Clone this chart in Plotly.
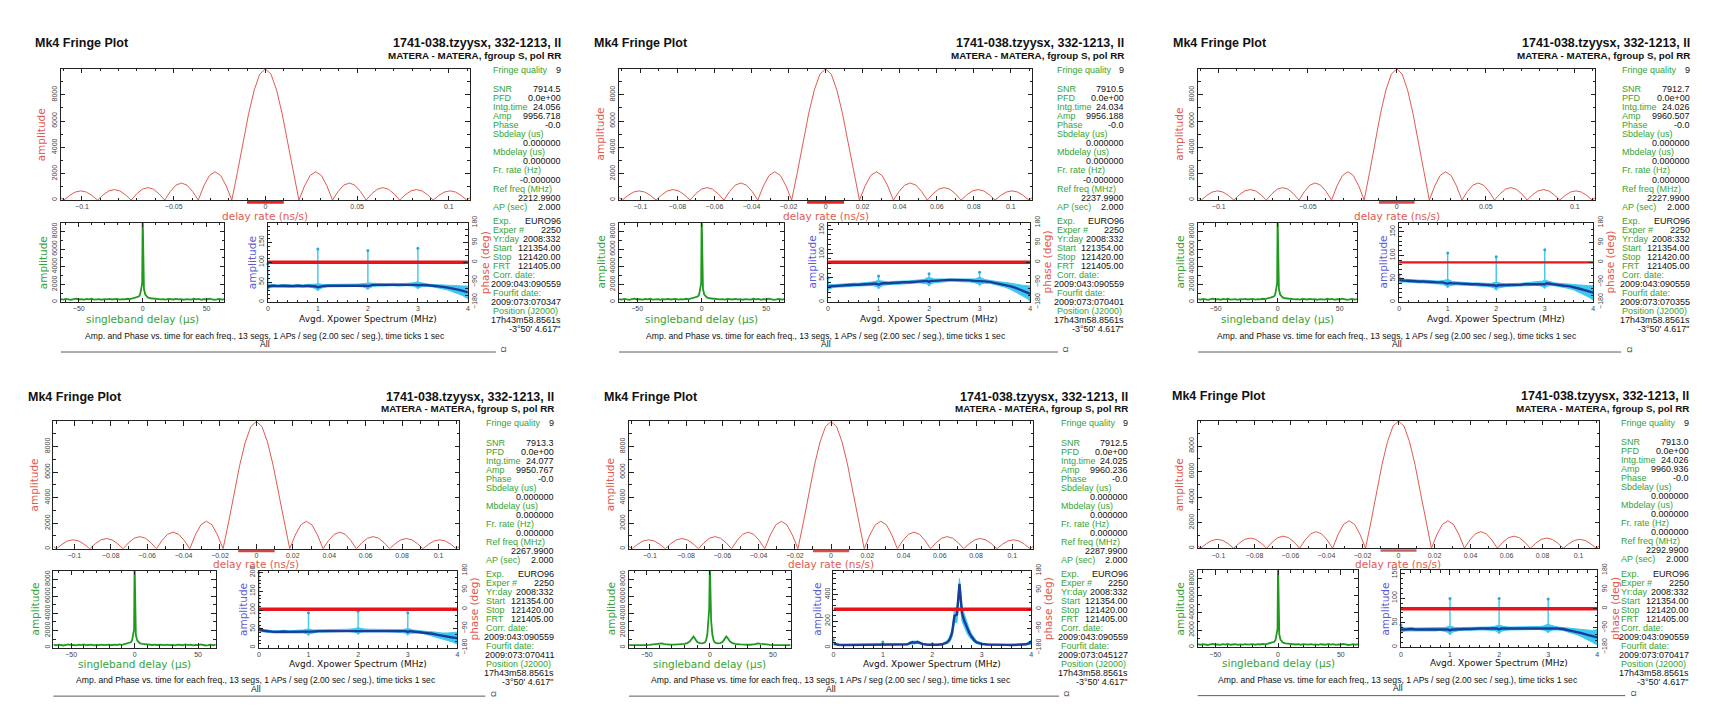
import plotly.graph_objects as go

# ----------------------------------------------------------------- data
# top plots: delay-rate function (ns/s vs amplitude)
rate_x = [-0.1115, -0.1098, -0.10675, -0.1037, -0.10065, -0.0976, -0.09455, -0.0915,
          -0.08845, -0.0854, -0.08235, -0.0793, -0.07625, -0.0732, -0.07015, -0.0671,
          -0.06405, -0.061, -0.05795, -0.0549, -0.05185, -0.0488, -0.04575, -0.0427,
          -0.03965, -0.0366, -0.03355, -0.0305, -0.02745, -0.0244, -0.02135, -0.0183,
          -0.01525, -0.0122, -0.00915, -0.0061, -0.00305, 0.0, 0.00305, 0.0061, 0.00915,
          0.0122, 0.01525, 0.0183, 0.02135, 0.0244, 0.02745, 0.0305, 0.03355, 0.0366,
          0.03965, 0.0427, 0.04575, 0.0488, 0.05185, 0.0549, 0.05795, 0.061, 0.06405,
          0.0671, 0.07015, 0.0732, 0.07625, 0.0793, 0.08235, 0.0854, 0.08845, 0.0915,
          0.09455, 0.0976, 0.10065, 0.1037, 0.10675, 0.1098, 0.1115]
rate_amp = [180, 0, 350, 610, 700, 610, 350, 0,
            400, 695, 800, 695, 400, 0,
            475, 825, 950, 825, 475, 0,
            650, 1130, 1300, 1130, 650, 0,
            1075, 1870, 2150, 1870, 1075, 0,
            2100, 4350, 6550, 8350, 9560, 9957, 9560, 8350, 6550, 4350, 2100,
            0, 1075, 1870, 2150, 1870, 1075,
            0, 650, 1130, 1300, 1130, 650,
            0, 475, 825, 950, 825, 475,
            0, 400, 695, 800, 695, 400,
            0, 350, 610, 700, 610, 350, 0, 180]
rate_window = [-0.01, 0.01]

# singleband delay (us)
sbd_x = [-64, -62, -60, -58, -56, -54, -52, -50, -48, -46, -44, -42, -40, -38, -36, -34,
         -32, -30, -28, -26, -24, -22, -20, -18, -16, -14, -12, -10, -8, -6, -4,
         -3, -2, -1, -0.4, 0, 0.4, 1, 2, 3,
         4, 6, 8, 10, 12, 14, 16, 18, 20, 22, 24, 26, 28, 30, 32, 34, 36, 38, 40, 42,
         44, 46, 48, 50, 52, 54, 56, 58, 60, 62, 64]
sbd_amp = [340, 280, 360, 300, 250, 330, 380, 290, 320, 260, 350, 300, 370, 280, 310, 340,
           260, 330, 300, 360, 290, 320, 350, 280, 340, 310, 370, 330, 400, 430, 520,
           620, 850, 1500, 2100, 9957, 2100, 1500, 850, 620,
           520, 430, 400, 330, 370, 310, 340, 280, 350, 320, 290, 360, 300, 330, 260, 340,
           310, 280, 370, 300, 350, 260, 320, 290, 380, 330, 250, 300, 360, 280, 340]
sbd_x_p5 = [-64, -60, -56, -52, -48, -44, -40, -38, -36, -32, -28, -24, -20, -18,
            -16, -15, -14, -13, -12, -11, -10, -8, -6, -4, -3, -2, -1, -0.5, 0,
            0.5, 1, 2, 3, 4, 6, 8, 10, 11, 12, 13, 14, 15, 16, 18, 20, 24, 28, 32,
            36, 38, 40, 44, 48, 52, 56, 60, 64]
sbd_amp_p5 = [300, 280, 320, 290, 320, 360, 450, 500, 420, 340, 350, 380, 430, 520,
              700, 900, 1150, 1300, 1100, 850, 650, 520, 500, 600, 850, 1500, 3200, 4600, 9957,
              4600, 3200, 1500, 850, 600, 500, 520, 650, 850, 1100, 1300, 1150, 900, 700, 520,
              430, 380, 350, 340, 420, 500, 450, 360, 320, 290, 320, 280, 300]

# averaged cross-power spectrum (MHz vs amplitude)
xp_x = [0.0, 0.02, 0.1, 0.2, 0.3, 0.4, 0.5, 0.6, 0.7, 0.8, 0.9, 0.96, 1.0, 1.04,
        1.1, 1.2, 1.3, 1.4, 1.5, 1.6, 1.7, 1.8, 1.9, 1.96, 2.0, 2.04,
        2.1, 2.2, 2.3, 2.4, 2.5, 2.6, 2.7, 2.8, 2.9, 2.96, 3.0, 3.04,
        3.1, 3.2, 3.3, 3.4, 3.5, 3.6, 3.7, 3.8, 3.9, 3.96, 4.0]
xp_spread = [8, 5, 3, 3, 3, 3, 3, 3, 3, 3, 4, 6, 9, 6, 4, 3, 3, 3, 3, 3, 3, 3, 4, 6, 9, 6,
             4, 3, 3, 3, 3, 3, 3, 3, 4, 6, 9, 6, 4, 3, 3, 4, 5, 6, 8, 10, 12, 14, 16]
xp_amp_p1 = [36, 40, 41, 40, 41, 40, 40, 41, 40, 41, 40, 39, 37, 39,
             40, 41, 41, 42, 41, 42, 42, 42, 42, 41, 40, 42,
             43, 43, 43, 43, 44, 43, 43, 44, 44, 43, 42, 43,
             43, 42, 41, 40, 38, 36, 34, 31, 28, 26, 24]
xp_amp_p2 = [30, 32, 33, 34, 35, 35, 36, 36, 37, 37, 38, 38, 36, 38,
             39, 39, 40, 40, 41, 41, 42, 43, 43, 44, 42, 44,
             44, 45, 45, 46, 46, 46, 45, 45, 44, 44, 43, 44,
             43, 42, 40, 38, 36, 33, 30, 26, 22, 20, 17]
xp_amp_p3 = [48, 47, 46, 45, 45, 44, 44, 43, 43, 42, 42, 41, 39, 41,
             40, 40, 39, 39, 38, 38, 37, 37, 36, 36, 34, 36,
             36, 36, 37, 37, 37, 38, 38, 39, 39, 39, 38, 40,
             39, 38, 37, 35, 34, 32, 29, 26, 23, 21, 20]
xp_amp_p4 = [52, 48, 45, 43, 42, 42, 43, 42, 42, 43, 43, 43, 41, 43,
             43, 44, 44, 45, 45, 45, 46, 46, 46, 46, 44, 46,
             46, 46, 46, 45, 45, 45, 44, 44, 44, 44, 42, 44,
             43, 42, 41, 39, 37, 34, 31, 29, 27, 26, 25]
xp_amp_p6 = [35, 36, 36, 37, 36, 36, 37, 36, 36, 37, 36, 36, 34, 36,
             36, 37, 37, 37, 38, 38, 38, 38, 38, 38, 36, 38,
             38, 38, 38, 38, 39, 39, 39, 39, 39, 39, 38, 39,
             39, 38, 37, 35, 33, 31, 28, 25, 22, 21, 20]
xp_x_p5 = [0.0, 0.1, 0.2, 0.3, 0.4, 0.5, 0.6, 0.7, 0.8, 0.9, 1.0, 1.1, 1.2, 1.3, 1.4, 1.5,
           1.55, 1.6, 1.65, 1.7, 1.75, 1.8, 1.9, 2.0, 2.1, 2.2, 2.3,
           2.35, 2.4, 2.45, 2.5, 2.55, 2.6, 2.65, 2.7, 2.75, 2.8, 2.85,
           2.9, 3.0, 3.1, 3.2, 3.3, 3.4, 3.5, 3.6, 3.7, 3.8, 3.9, 4.0]
xp_amp_p5 = [30, 22, 20, 20, 21, 20, 20, 21, 20, 20, 22, 20, 20, 21, 22, 25,
             35, 40, 38, 42, 36, 28, 22, 21, 22, 25, 40,
             60, 110, 240, 250, 480, 260, 200, 150, 110, 80, 55,
             40, 28, 24, 22, 21, 21, 21, 20, 21, 22, 25, 40]
xp_spread_p5 = [10, 3, 3, 3, 3, 3, 3, 3, 3, 3, 5, 3, 3, 3, 3, 4,
                8, 10, 10, 10, 8, 5, 3, 3, 3, 5, 10,
                20, 30, 50, 60, 40, 60, 50, 40, 30, 20, 15,
                10, 6, 4, 3, 3, 3, 3, 3, 3, 3, 5, 15]
spike_x = [0, 1, 2, 3]
spike_top = [[96, 133, 129, 135], [50, 54, 59, 62], [58, 105, 97, 112],
             [200, 93, 97, 93], [60, 42, 30, 28], [45, 99, 99, 98]]
phase_x = [0, 4]
phase_deg = [0, 0]

# per-panel numbers
snr = [7914.5, 7910.5, 7912.7, 7913.3, 7912.5, 7913.0]
intg_time = [24.056, 24.034, 24.026, 24.077, 24.025, 24.026]
amp_val = [9956.718, 9956.188, 9960.507, 9950.767, 9960.236, 9960.936]
fr_rate = ["-0.000000", "-0.000000", "0.000000", "0.000000", "0.000000", "0.000000"]
ref_freq = [2212.99, 2237.99, 2227.99, 2267.99, 2287.99, 2292.99]
fourfit_date = ["2009:073:070347", "2009:073:070401", "2009:073:070355",
                "2009:073:070411", "2009:073:045127", "2009:073:070417"]
rate_tick_step = [0.05, 0.02, 0.05, 0.02, 0.02, 0.02]
xp_amp_max = [199, 165, 170, 205, 580, 157]
xp_amp_step = [50, 50, 50, 50, 200, 50]

title_main = "1741-038.tzyysx, 332-1213, ll"
subtitle = "MATERA - MATERA, fgroup S, pol RR"
caption = ("Amp. and Phase vs. time for each freq., 13 segs, 1 APs / seg (2.00 sec / seg.), "
           "time ticks 1 sec")

# ---------------------------------------------------------------- layout
W, H = 1722, 707
panel_ox = [32.5, 592, 1172.5, 25, 602, 1172]
panel_oy = [37, 37, 37, 397.5, 397.5, 397]
panel_vs = [1.0, 1.0, 1.0, 0.97, 0.97, 0.97]
panel_plot_w = [410, 414, 398, 407, 405, 402.5]
panel_text_r = [529, 534, 520, 529, 528, 520]
phase_w = [3.5, 3.5, 2.2, 3.5, 3.5, 3.5]
bar_col = ["#e42222", "#e42222", "#d24c4c", "#c94a4a", "#d45050", "#c26262"]

FONT = "Liberation Sans, Arial, Helvetica, sans-serif"
AXF = "DejaVu Sans, sans-serif"
GREEN = "#36a336"
SALMON = "#e15a50"
BLUE_LBL = "#5c5cd8"
CYAN = "#3cc8f0"
NAVY = "#1b3d99"
BLACK = "#111111"


def fx(px):
    return px / W


def fy(py):
    return 1 - py / H


fig = go.Figure()
axes = {}
ann = []
shp = []
cnt = {"x": 0, "y": 0}


def new_ref(k):
    cnt[k] += 1
    n = cnt[k]
    return k if n == 1 else f"{k}{n}"


def axkey(ref):
    return ref[0] + "axis" + ref[1:]


def tick_style(dtick, minor, rng, **extra):
    d = dict(range=rng, dtick=dtick, tick0=0, ticks="inside", ticklen=4.5, tickwidth=1,
             tickcolor="#222",
             minor=dict(dtick=minor, tick0=0, ticks="inside", ticklen=2.5, tickwidth=1,
                        tickcolor="#222", showgrid=False),
             showline=True, linecolor="#222", linewidth=1, showgrid=False, zeroline=False,
             tickfont=dict(family=FONT, size=7, color="#444"), exponentformat="none",
             fixedrange=True)
    d.update(extra)
    return d


def text(x, y, s, size, color, xanchor="left", bold=False, angle=0, family=FONT):
    if bold:
        s = f"<b>{s}</b>"
    ann.append(dict(x=fx(x), y=fy(y), xref="paper", yref="paper", text=s, showarrow=False,
                    xanchor=xanchor, yanchor="middle", textangle=angle, borderpad=0,
                    font=dict(family=family, size=size, color=color)))


def build_panel(i):
    ox, oy, vs = panel_ox[i], panel_oy[i], panel_vs[i]
    w = panel_plot_w[i]
    pl = ox + 26.5
    pr = pl + w
    tr = ox + panel_text_r[i]
    tl = tr - 70

    def V(r):
        return oy + r * vs

    text(ox, oy, "Mk4 Fringe Plot", 12.5, BLACK, bold=True)
    text(tr, oy, title_main, 12.5, BLACK, xanchor="right", bold=True)
    text(tr, oy + 12.5, subtitle, 9.8, BLACK, xanchor="right", bold=True)

    # ---- top: delay rate
    xr, yr = new_ref("x"), new_ref("y")
    tt, tb = V(26), V(160)
    axes[axkey(xr)] = tick_style(rate_tick_step[i], 0.01, [-0.1115, 0.1115],
                                 domain=[fx(pl), fx(pr)], anchor=yr, mirror="ticks")
    axes[axkey(yr)] = tick_style(2000, 1000, [0, 9970], domain=[fy(tb), fy(tt)],
                                 anchor=xr, mirror="ticks", tickangle=-90)
    fig.add_trace(go.Scatter(x=rate_x, y=rate_amp, mode="lines",
                             line=dict(color=SALMON, width=1), xaxis=xr, yaxis=yr,
                             hoverinfo="skip", showlegend=False))
    shp.append(dict(type="line", xref=xr, yref=f"{yr} domain", x0=rate_window[0],
                    x1=rate_window[1], y0=-0.017, y1=-0.017,
                    line=dict(color=bar_col[i], width=2.6)))
    text(pl - 19, (tt + tb) / 2, "amplitude", 10.5, SALMON, xanchor="center", angle=-90,
         family=AXF)
    text(pl + w / 2, V(176.5), "delay rate (ns/s)", 10.5, SALMON, xanchor="center",
         family=AXF)

    # ---- bottom left: singleband delay
    bt, bb = V(183), V(264)
    bl_l, bl_r = pl, pl + 0.40 * w
    xr2, yr2 = new_ref("x"), new_ref("y")
    axes[axkey(xr2)] = tick_style(50, 10, [-64, 64], domain=[fx(bl_l), fx(bl_r)],
                                  anchor=yr2, mirror="ticks")
    axes[axkey(yr2)] = tick_style(2000, 1000, [0, 9000], domain=[fy(bb), fy(bt)],
                                  anchor=xr2, mirror="ticks", tickangle=-90)
    sx = sbd_x_p5 if i == 4 else sbd_x
    sy = sbd_amp_p5 if i == 4 else sbd_amp
    fig.add_trace(go.Scatter(x=sx, y=sy, mode="lines", line=dict(color="#1f9a1f", width=1.8),
                             xaxis=xr2, yaxis=yr2, hoverinfo="skip", showlegend=False))
    text(bl_l - 18, (bt + bb) / 2, "amplitude", 10.5, GREEN, xanchor="center", angle=-90,
         family=AXF)
    text((bl_l + bl_r) / 2, V(281), "singleband delay (µs)", 10.5, GREEN,
         xanchor="center", family=AXF)

    # ---- bottom right: xpower spectrum + phase
    br_l, br_r = pl + 0.506 * w, pr - 2
    xr3, yr3, yr4 = new_ref("x"), new_ref("y"), new_ref("y")
    amax, astep = xp_amp_max[i], xp_amp_step[i]
    axes[axkey(xr3)] = tick_style(1, 0.2, [0, 4], domain=[fx(br_l), fx(br_r)],
                                  anchor=yr3, mirror="ticks")
    axes[axkey(yr3)] = tick_style(astep, astep / 5, [0, amax], domain=[fy(bb), fy(bt)],
                                  anchor=xr3, mirror=True, tickangle=-90)
    axes[axkey(yr4)] = tick_style(90, 30, [-180, 180], overlaying=yr3, side="right",
                                  anchor=xr3, tickangle=-90)
    if i == 4:
        px_, pa_, ps_ = xp_x_p5, xp_amp_p5, xp_spread_p5
    else:
        px_ = xp_x
        pa_ = [xp_amp_p1, xp_amp_p2, xp_amp_p3, xp_amp_p4, None, xp_amp_p6][i]
        ps_ = xp_spread
    hi = [a + s for a, s in zip(pa_, ps_)]
    lo = [max(a - s, 0) for a, s in zip(pa_, ps_)]
    fig.add_trace(go.Scatter(x=px_ + px_[::-1], y=hi + lo[::-1], mode="lines", fill="toself",
                             fillcolor=CYAN, line=dict(color=CYAN, width=1),
                             xaxis=xr3, yaxis=yr3, hoverinfo="skip", showlegend=False))
    spx, spy = [], []
    for s, top in zip(spike_x, spike_top[i]):
        base = pa_[px_.index(s)]
        spx += [s, s, None]
        spy += [base, top, None]
    fig.add_trace(go.Scatter(x=spx, y=spy, mode="lines", line=dict(color=CYAN, width=1.4),
                             xaxis=xr3, yaxis=yr3, hoverinfo="skip", showlegend=False))
    fig.add_trace(go.Scatter(x=spike_x, y=spike_top[i], mode="markers",
                             marker=dict(color="#2aa6d8", size=3),
                             xaxis=xr3, yaxis=yr3, hoverinfo="skip", showlegend=False,
                             cliponaxis=False))
    fig.add_trace(go.Scatter(x=px_, y=pa_, mode="lines", line=dict(color=NAVY, width=2.4),
                             xaxis=xr3, yaxis=yr3, hoverinfo="skip", showlegend=False))
    fig.add_trace(go.Scatter(x=phase_x, y=phase_deg, mode="lines",
                             line=dict(color="#e8141c", width=phase_w[i]),
                             xaxis=xr3, yaxis=yr4, hoverinfo="skip", showlegend=False))
    text(br_l - 16, (bt + bb) / 2, "amplitude", 10.5, BLUE_LBL, xanchor="center", angle=-90,
         family=AXF)
    text(br_r + 17, (bt + bb) / 2, "phase (deg)", 10.5, SALMON, xanchor="center", angle=-90,
         family=AXF)
    text((br_l + br_r) / 2, V(281), "Avgd. Xpower Spectrum (MHz)", 9, BLACK,
         xanchor="center", family=AXF)

    # ---- caption + line
    text((pl + pr) / 2, V(298.5), caption, 8.6, BLACK, xanchor="center")
    text((pl + pr) / 2, V(307), "All", 8.6, BLACK, xanchor="center")
    shp.append(dict(type="line", xref="paper", yref="paper", x0=fx(pl), x1=fx(pr + 26),
                    y0=fy(V(315)), y1=fy(V(315)), line=dict(color="#333", width=0.8)))
    text(pr + 34, V(312.5), "Ω", 8, "#444", xanchor="center", angle=-90)

    # ---- text column (fixed spacing in both rows)
    lh = 9.2
    fs = 9
    text(tl, oy + 27, "Fringe quality", fs, GREEN)
    text(tr, oy + 27, "9", fs, BLACK, xanchor="right")
    rows1 = [("SNR", f"{snr[i]:.1f}"), ("PFD", "0.0e+00"), ("Intg.time", f"{intg_time[i]:.3f}"),
             ("Amp", f"{amp_val[i]:.3f}"), ("Phase", "-0.0"), ("Sbdelay (us)", ""),
             ("", "0.000000"), ("Mbdelay (us)", ""), ("", "0.000000"), ("Fr. rate (Hz)", ""),
             ("", fr_rate[i]), ("Ref freq (MHz)", ""), ("", f"{ref_freq[i]:.4f}"),
             ("AP (sec)", "2.000")]
    rows2 = [("Exp.", "EURO96"), ("Exper #", "2250"), ("Yr:day", "2008:332"),
             ("Start", "121354.00"), ("Stop", "121420.00"), ("FRT", "121405.00"),
             ("Corr. date:", ""), ("", "2009:043:090559"), ("Fourfit date:", ""),
             ("", fourfit_date[i]), ("Position (J2000)", ""), ("", "17h43m58.8561s"),
             ("", "-3°50' 4.617\"")]
    y = oy + 47
    for lab, val in rows1:
        if lab:
            text(tl, y, lab, fs, GREEN)
        if val:
            text(tr, y, val, fs, BLACK, xanchor="right")
        y += lh
    y = oy + 181
    for lab, val in rows2:
        if lab:
            text(tl, y, lab, fs, GREEN)
        if val:
            text(tr, y, val, fs, BLACK, xanchor="right")
        y += lh


for p in range(6):
    build_panel(p)

fig.update_layout(width=W, height=H, margin=dict(l=0, r=0, t=0, b=0),
                  paper_bgcolor="white", plot_bgcolor="white", showlegend=False,
                  annotations=ann, shapes=shp, **axes)

fig.write_html("out.html", config={"displayModeBar": False, "staticPlot": True},
               post_script="document.body.style.margin='0';document.body.style.overflow='hidden';")
